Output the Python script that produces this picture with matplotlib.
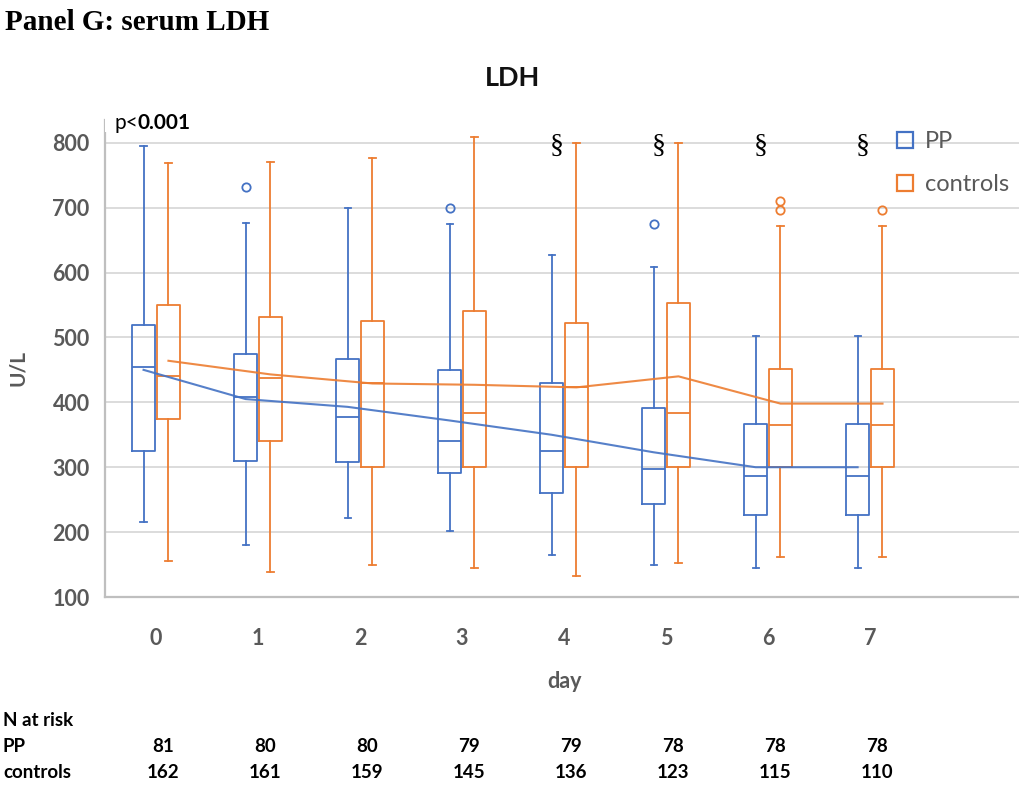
import matplotlib
matplotlib.use("Agg")
import matplotlib.pyplot as plt
import matplotlib.transforms as mtransforms
from matplotlib.lines import Line2D

# ---- data -------------------------------------------------------------
days = [0, 1, 2, 3, 4, 5, 6, 7]
groups = ["PP", "controls"]

pp_q1 = [325, 310, 308, 291, 260, 244, 227, 227]
pp_med = [455, 408, 378, 341, 325, 297, 286, 286]
pp_q3 = [519, 474, 467, 450, 430, 391, 367, 367]
pp_lo = [215, 180, 222, 202, 164, 150, 144, 144]
pp_hi = [795, 677, 699, 674, 627, 609, 502, 502]
pp_mean = [450, 405, 393, 372, 350, 323, 300, 300]
pp_out = [[], [732], [], [700], [], [674], [], []]

ctl_q1 = [374, 341, 301, 301, 300, 300, 300, 300]
ctl_med = [441, 437, 429, 384, 424, 384, 365, 365]
ctl_q3 = [550, 532, 525, 540, 522, 553, 452, 452]
ctl_lo = [155, 138, 150, 144, 133, 152, 161, 161]
ctl_hi = [769, 771, 777, 809, 800, 800, 671, 671]
ctl_mean = [464, 443, 429, 427, 423, 440, 398, 398]
ctl_out = [[], [], [], [], [], [], [710, 697], [697]]

n_pp = [81, 80, 80, 79, 79, 78, 78, 78]
n_ctl = [162, 161, 159, 145, 136, 123, 115, 110]

sig_days = [4, 5, 6, 7]
y_ticks = [100, 200, 300, 400, 500, 600, 700, 800]

# ---- style ------------------------------------------------------------
BLUE = "#4472C4"
ORANGE = "#ED7D31"
GREY_TXT = "#595959"
SANS = ["Lato", "DejaVu Sans"]
SERIF = ["Liberation Serif", "DejaVu Serif"]

fig = plt.figure(figsize=(10.2, 7.87), dpi=100)
W, H = 1020, 787
ax = fig.add_axes([105 / W, 1 - 597 / H, (W - 105) / W, (597 - 120) / H])


def make_stats(q1, med, q3, lo, hi, out):
    return [dict(q1=a, med=b, q3=c, whislo=d, whishi=e, fliers=f)
            for a, b, c, d, e, f in zip(q1, med, q3, lo, hi, out)]


offset, width = 0.122, 0.225
series = [
    (make_stats(pp_q1, pp_med, pp_q3, pp_lo, pp_hi, pp_out), pp_mean, BLUE, -offset),
    (make_stats(ctl_q1, ctl_med, ctl_q3, ctl_lo, ctl_hi, ctl_out), ctl_mean, ORANGE, offset),
]

for stats, means, col, off in series:
    pos = [d + off for d in days]
    lp = dict(color=col, linewidth=1.3)
    ax.bxp(stats, positions=pos, widths=width, capwidths=0.06,
           showfliers=True, patch_artist=False,
           boxprops=lp, whiskerprops=lp, capprops=lp, medianprops=lp,
           flierprops=dict(marker="o", markersize=6, markerfacecolor="none",
                           markeredgecolor=col, markeredgewidth=1.3),
           manage_ticks=False, zorder=3)
    ax.plot(pos, means, color=col, linewidth=1.5, alpha=0.9, zorder=4)

# ---- axes -------------------------------------------------------------
ax.set_xlim(-0.5, 8.47)
ax.set_ylim(100, 835)
ax.set_yticks(y_ticks)
ax.set_xticks(days)
ax.set_xticklabels([str(d) for d in days])
ax.tick_params(axis="both", length=0, labelsize=15.5, labelcolor=GREY_TXT)
ax.tick_params(axis="x", pad=22.5)
ax.tick_params(axis="y", pad=11)
for lab in ax.get_xticklabels() + ax.get_yticklabels():
    lab.set_family(SANS)
    lab.set_fontweight("bold")

ax.grid(axis="y", color="#d9d9d9", linewidth=1.3, zorder=0)
ax.set_axisbelow(True)
for s in ("top", "right"):
    ax.spines[s].set_visible(False)
for s in ("left", "bottom"):
    ax.spines[s].set_color("#bfbfbf")
    ax.spines[s].set_linewidth(1.6)

fig.text(18 / W, 1 - 368 / H, "U/L", rotation=90, ha="center", va="center",
         fontsize=15, fontweight="bold", color=GREY_TXT, family=SANS)
fig.text(564 / W, 1 - 681 / H, "day", ha="center", va="center",
         fontsize=15.5, fontweight="bold", color=GREY_TXT, family=SANS)

# chart title and panel heading
fig.text(513 / W, 1 - 78 / H, "LDH", ha="center", va="center",
         fontsize=19.5, fontweight="bold", color="#111111", family=SANS)
fig.text(5 / W, 1 - 22 / H, "Panel G: serum LDH", ha="left", va="center",
         fontsize=21, fontweight="bold", color="black", family=SERIF)

# p-value box (covers the top gridline)
t = fig.text(115 / W, 1 - 123 / H, "p<", ha="left", va="center",
             fontsize=15, color="black", family=SANS)
ax.add_patch(plt.Rectangle((105 / W, 1 - 132 / H), 128 / W, 25 / H,
                           transform=fig.transFigure, facecolor="white",
                           edgecolor="none", zorder=5, clip_on=False))
fig.canvas.draw()
bb = t.get_window_extent()
fig.text(bb.x1 / W - 0.001, 1 - 123 / H, "0.001", ha="left", va="center",
         fontsize=15, fontweight="bold", color="black", family=SANS)

# significance marks
mark_tr = mtransforms.blended_transform_factory(ax.transData, fig.transFigure)
for d in sig_days:
    ax.text(d - 0.075, 1 - 146 / H, "§", transform=mark_tr, ha="center",
            va="center", fontsize=20, color="black", family=SERIF, zorder=6)

# legend
handles = [Line2D([], [], linestyle="none", marker="s", markersize=12,
                  markerfacecolor="none", markeredgecolor=c, markeredgewidth=1.6)
           for c in (BLUE, ORANGE)]
leg = fig.legend(handles, groups, loc="upper left",
                 bbox_to_anchor=(881 / W, 1 - 119 / H), frameon=False,
                 borderpad=0, handletextpad=0.35, labelspacing=0.95,
                 handlelength=1.0,
                 prop=dict(family=SANS, size=17))
for txt in leg.get_texts():
    txt.set_color(GREY_TXT)

# N at risk table
fig.text(3 / W, 1 - 720 / H, "N at risk", ha="left", va="center",
         fontsize=13.5, fontweight="bold", family=SANS)
rows = [("PP", n_pp, 747), ("controls", n_ctl, 773)]
for label, vals, ypx in rows:
    fig.text(3 / W, 1 - ypx / H, label, ha="left", va="center",
             fontsize=13.5, fontweight="bold", family=SANS)
    for d, v in zip(days, vals):
        ax.text(d + 0.07, 1 - ypx / H, str(v), transform=mark_tr, ha="center",
                va="center", fontsize=13.5, fontweight="bold", family=SANS,
                clip_on=False)

fig.savefig("out.png", dpi=100)
